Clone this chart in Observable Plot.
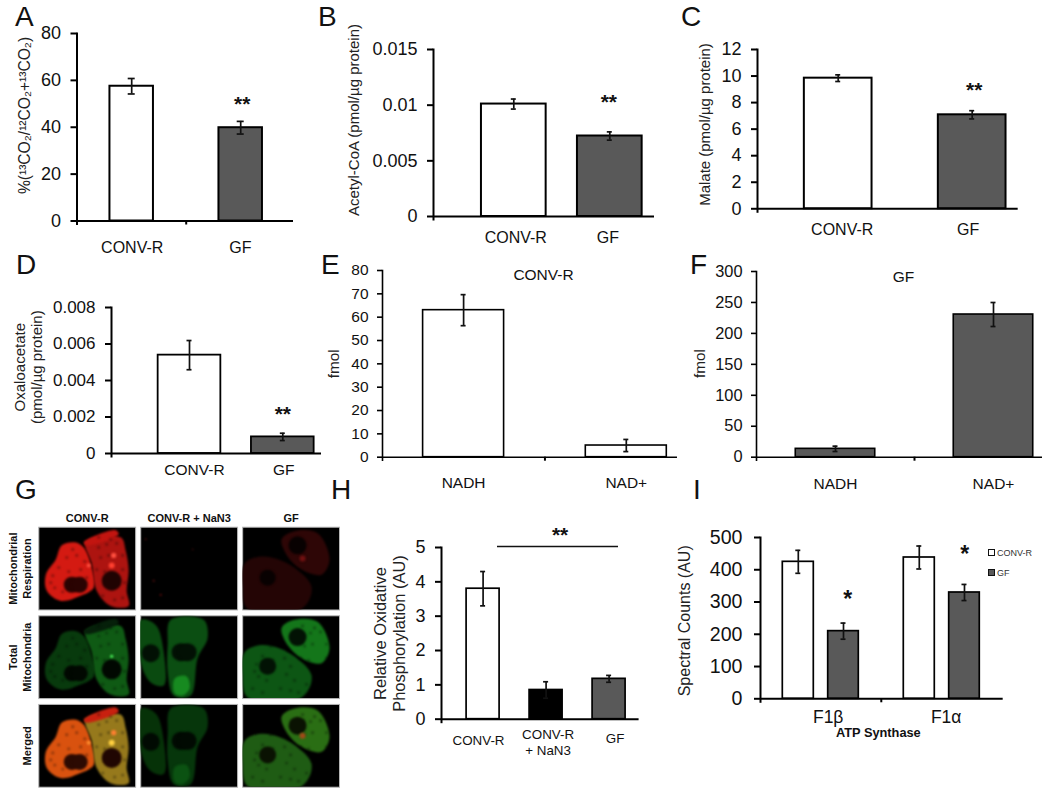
<!DOCTYPE html>
<html>
<head>
<meta charset="utf-8">
<script src="https://cdn.jsdelivr.net/npm/d3@7"></script>
<script src="https://cdn.jsdelivr.net/npm/@observablehq/plot@0.6"></script>
<style>
html,body{margin:0;padding:0;background:#fff}
#fig{position:relative;width:1050px;height:792px;overflow:hidden;font-family:"Liberation Sans",Arial,sans-serif;color:#111}
#fig svg{position:absolute;overflow:visible;max-width:none}
.letter{position:absolute;font-size:28px;line-height:1;color:#111}
.leg{position:absolute;font-size:9px;line-height:10px;color:#333}
.sw{position:absolute;width:5px;height:5px;border:1.5px solid #111}
#micro svg g[aria-label="line"] path{filter:blur(1.3px)}
#micro svg g[aria-label="dot"] circle{filter:blur(0.9px)}
</style>
</head>
<body>
<div id="fig"></div>
<script>
const WHITE = "#ffffff", GREY = "#595959", BLACK = "#000000";

// ---- Panel data ----
const catsPair = ["CONV-R", "GF"];
const catsNad = ["NADH", "NAD+"];
const catsH = ["CONV-R", "CONV-R\n+ NaN3", "GF"];
const catsI = ["F1β", "F1α"];

const valuesA = [57.5, 39.8];    const errorsA = [3.3, 2.7];
const valuesB = [0.0101, 0.00723]; const errorsB = [0.00045, 0.00037];
const valuesC = [9.84, 7.08];    const errorsC = [0.25, 0.31];
const valuesD = [0.00539, 0.00091]; const errorsD = [0.0008, 0.0002];
const valuesE = [63, 5];         const errorsE = [6.65, 2.6];
const valuesF = [13.5, 230.5];   const errorsF = [4.3, 19.4];
const valuesH = [3.8, 0.85, 1.175]; const errorsH = [0.5, 0.24, 0.1];
const valuesIconv = [424.6, 438]; const errorsIconv = [35.6, 35.6];
const valuesIgf = [209.7, 329.5]; const errorsIgf = [25, 25];

const ticksA = [0, 20, 40, 60, 80];
const ticksB = [0, 0.005, 0.01, 0.015];
const ticksC = [0, 2, 4, 6, 8, 10, 12];
const ticksD = [0, 0.002, 0.004, 0.006, 0.008];
const ticksE = [0, 10, 20, 30, 40, 50, 60, 70, 80];
const ticksF = [0, 50, 100, 150, 200, 250, 300];
const ticksH = [0, 1, 2, 3, 4, 5];
const ticksI = [0, 100, 200, 300, 400, 500];

// ---- Panel G: image tiles, hand traced outlines in tile units ----
const cols = ["CONV-R", "CONV-R + NaN3", "GF"];
const rows = ["Mitochondrial\nRespiration", "Total\nMitochondria", "Merged"];
const outlines = {
  aLeft: [[23,18],[36,15],[45,20],[52,36],[55,60],[42,68],[22,73],[8,63],[7,47],[17,32]],
  aRight: [[47,15],[82,10],[87,23],[90,43],[88,63],[90,78],[72,78],[58,63],[53,36]],
  aBand: [[45,15],[77,3],[80,7],[47,18]],
  bLeft: [[0,4],[15,9],[23,36],[23,69],[10,66],[0,46]],
  bRight: [[30,4],[63,4],[67,22],[57,42],[50,79],[33,79],[27,56],[27,29]],
  bGlow: [[34,62],[46,60],[49,72],[42,79],[34,77]],
  cUpper: [[39,12],[52,4],[75,6],[87,32],[79,47],[59,42],[45,29]],
  cLower: [[2,36],[19,29],[45,36],[69,59],[59,81],[5,81],[0,59]]
};
const blobs = [
  [cols[0], rows[0], "aLeft", "#d41a12"], [cols[0], rows[0], "aRight", "#ad1410"], [cols[0], rows[0], "aBand", "#c21510"],
  [cols[0], rows[1], "aLeft", "#083a0d"], [cols[0], rows[1], "aRight", "#0f5a14"], [cols[0], rows[1], "aBand", "#06200a"],
  [cols[0], rows[2], "aLeft", "#d9520f"], [cols[0], rows[2], "aRight", "#96791c"], [cols[0], rows[2], "aBand", "#c8200f"],
  [cols[1], rows[1], "bLeft", "#0a4a10"], [cols[1], rows[1], "bRight", "#0b4e12"], [cols[1], rows[1], "bGlow", "#178a20"],
  [cols[1], rows[2], "bLeft", "#063208"], [cols[1], rows[2], "bRight", "#06360b"], [cols[1], rows[2], "bGlow", "#0b5212"],
  [cols[2], rows[0], "cUpper", "#2e0606"], [cols[2], rows[0], "cLower", "#240505"],
  [cols[2], rows[1], "cUpper", "#14761a"], [cols[2], rows[1], "cLower", "#0d5614"],
  [cols[2], rows[2], "cUpper", "#2a6e14"], [cols[2], rows[2], "cLower", "#1f5c14"]
];
const blobPoints = blobs.flatMap(([col, row, shape, color]) =>
  outlines[shape].map(([x, y]) => ({col, row, key: col + row + shape, color, x, y})));
// nuclei are drawn as two overlapping discs where the reference shows an oval one
const spots = [
  [cols[0], rows[0], 33, 57, 8, "#2a0302"], [cols[0], rows[0], 41, 57, 8, "#2a0302"], [cols[0], rows[0], 73, 53, 10, "#200302"],
  [cols[0], rows[1], 33, 57, 8, "#010801"], [cols[0], rows[1], 41, 57, 8, "#010801"], [cols[0], rows[1], 73, 53, 10, "#010801"],
  [cols[0], rows[2], 33, 57, 8, "#2c0a02"], [cols[0], rows[2], 41, 57, 8, "#2c0a02"], [cols[0], rows[2], 73, 53, 10, "#200602"],
  [cols[1], rows[1], 10, 37, 9, "#021004"], [cols[1], rows[1], 40, 36, 9, "#021004"], [cols[1], rows[1], 47, 36, 9, "#021004"],
  [cols[1], rows[2], 10, 37, 9, "#010a02"], [cols[1], rows[2], 40, 36, 9, "#010a02"], [cols[1], rows[2], 47, 36, 9, "#010a02"],
  [cols[2], rows[0], 55, 18, 9, "#080101"], [cols[2], rows[0], 25, 50, 8, "#080101"],
  [cols[2], rows[1], 55, 21, 9, "#021204"], [cols[2], rows[1], 25, 50, 8.5, "#021204"],
  [cols[2], rows[2], 55, 21, 9, "#0a1202"], [cols[2], rows[2], 25, 50, 8.5, "#0a1202"],
  [cols[0], rows[0], 75, 28, 2.6, "#ff5040"], [cols[0], rows[0], 73, 38, 3, "#ff4030"], [cols[0], rows[0], 50, 38, 2, "#ff5040"],
  [cols[0], rows[1], 73, 40, 1.5, "#50ff60"],
  [cols[0], rows[2], 75, 28, 2.6, "#ff8030"], [cols[0], rows[2], 73, 38, 3, "#ffd040"], [cols[0], rows[2], 50, 38, 2, "#ff9030"],
  [cols[1], rows[0], 5, 12, 0.8, "#701010"], [cols[1], rows[0], 52, 22, 0.7, "#601010"], [cols[1], rows[0], 13, 53, 1, "#601010"], [cols[1], rows[0], 20, 67, 0.9, "#901010"],
  [cols[2], rows[0], 60, 31, 3, "#701010"],
  [cols[2], rows[2], 60, 31, 3, "#a04a18"]
].map(([col, row, x, y, r, color]) => ({col, row, x, y, r, color}));
// darker mottling over the cell bodies
const mottleCells = [[cols[0], rows[0]], [cols[0], rows[1]], [cols[0], rows[2]], [cols[2], rows[1]], [cols[2], rows[2]]];
const mottleSpots = [[14,48],[20,40],[28,30],[38,28],[46,34],[16,60],[24,64],[48,50],[12,55],[34,22],[60,20],[68,17],[78,16],[84,28],[62,30],[58,42],[84,42],[86,55],[64,68],[76,72],[84,70],[42,42],[30,44],[70,28],[38,72],[52,64],[10,72],[20,76],[48,74],[56,76],[66,44],[72,12],[60,10],[44,58]];
const mottle = mottleCells.flatMap(([col, row]) => mottleSpots.map(([x, y]) => ({col, row, x, y})));

// ---- Helpers ----
const fig = document.getElementById("fig");
const FONT = '"Liberation Sans", Arial, sans-serif';

function panel(o) {
  const L = Math.max(0, o.axisX - 80), R = o.xEnd + 10, T = o.yTop - 10, B = o.y0 + 48;
  const bw = o.barW, step = o.step, p = 1 - bw / step;
  const start = o.c1 - p * step - bw / 2;
  const n = o.cats.length;
  const rangeW = step * (n + p);
  const sw = o.barStroke ?? 2;
  const plotH = o.y0 - o.yTop;
  const rowsAll = o.series.flatMap(s => s.values.map((v, i) => ({
    cat: o.cats[i], v, e: s.errors[i], fill: s.fills ? s.fills[i] : s.fill,
    l: s.insetLeft ?? 0, r: s.insetRight ?? 0, dx: s.dx ?? 0,
    cap: o.cap ?? 5
  })));
  const marks = [];
  for (const r of rowsAll) {
    marks.push(Plot.barY([r], {x: "cat", y: "v", fill: "fill", stroke: BLACK, strokeWidth: sw, insetLeft: r.l, insetRight: r.r}));
    marks.push(Plot.ruleX([r], {x: "cat", y1: d => d.v - d.e, y2: d => d.v + d.e, dx: r.dx, stroke: "#111", strokeWidth: o.errStroke ?? 1.7}));
    for (const val of [r.v - r.e, r.v + r.e]) {
      marks.push(Plot.tickY([{cat: r.cat, val}], {x: "cat", y: "val", dx: r.dx, inset: (bw - r.cap) / 2, stroke: "#111", strokeWidth: 1.7}));
    }
  }
  marks.push(Plot.ruleY([0], {stroke: BLACK, strokeWidth: o.axisStroke ?? 2}));
  marks.push(Plot.frame({anchor: "left", stroke: BLACK, strokeWidth: o.axisStroke ?? 2, insetBottom: -3}));
  marks.push(Plot.axisY(o.ticks, {
    label: null, tickSize: o.tickSize ?? 6, tickPadding: o.tickPad ?? 10, fontSize: o.tickFont ?? 18,
    strokeWidth: o.axisStroke ?? 2, tickFormat: d => String(d), stroke: BLACK
  }));
  o.cats.forEach((c, i) => {
    marks.push(Plot.axisX([c], {
      label: null, tickSize: 0, fontSize: o.catFont ?? 16, lineHeight: 1.2,
      tickPadding: Array.isArray(o.catPad) ? o.catPad[i] : o.catPad,
      dx: o.catDx ? o.catDx[i] : 0
    }));
  });
  if (o.midTick) {
    marks.push(Plot.ruleX([o.cats[1]], {dx: -step / 2, y1: 0, y2: -(4 / plotH) * o.max, stroke: BLACK, strokeWidth: 2}));
  }
  if (o.yLabel) {
    marks.push(Plot.text([o.yLabel.text], {
      frameAnchor: "left", rotate: -90, textAnchor: "middle", lineAnchor: "middle",
      dx: o.yLabel.x - o.axisX, dy: o.yLabel.y - (o.y0 + o.yTop) / 2,
      fontSize: o.yLabel.font ?? 15, lineHeight: o.yLabel.lh ?? 1.15, fill: "#222"
    }));
  }
  for (const st of o.stars ?? []) {
    marks.push(Plot.text([st], {
      x: "cat", y: "y", text: "t", dx: st.dx ?? 0, fontSize: st.font ?? 21, fontWeight: "bold", lineAnchor: "middle", textAnchor: "middle", fill: "#111"
    }));
  }
  if (o.extra) marks.push(...o.extra);
  const svg = Plot.plot({
    width: R - L, height: B - T,
    marginLeft: o.axisX - L, marginRight: R - o.xEnd, marginTop: o.yTop - T, marginBottom: B - o.y0,
    style: {background: "transparent", fontFamily: FONT, overflow: "visible", color: "#111"},
    x: {type: "band", domain: o.cats, range: [start - L, start - L + rangeW], padding: p, round: false, axis: null},
    y: {domain: [0, o.max], axis: null},
    marks
  });
  svg.style.left = L + "px";
  svg.style.top = T + "px";
  fig.appendChild(svg);
}

const titleMark = (t, dx, dy, font, weight) => Plot.text([t], {
  frameAnchor: "top", textAnchor: "middle", lineAnchor: "middle", dx, dy, fontSize: font, fontWeight: weight ?? "normal", fill: "#111"
});

// A
panel({axisX: 76.5, y0: 220.5, yTop: 33, xEnd: 293, max: 80, ticks: ticksA, cats: catsPair,
  c1: 131.2, step: 109, barW: 43.5, cap: 7, catPad: 18.8, catFont: 16, catDx: [0.5, -0.3], midTick: true,
  series: [{values: valuesA, errors: errorsA, fills: [WHITE, GREY]}],
  yLabel: {text: "%(¹³CO₂/¹²CO₂+¹³CO₂)", x: 24, y: 115, font: 15.6},
  stars: [{cat: "GF", y: 49.6, t: "**", dx: 1.5}]});
// B
panel({axisX: 433, y0: 215.5, yTop: 48.5, xEnd: 654, max: 0.015, ticks: ticksB, cats: catsPair,
  c1: 513.3, step: 96, barW: 64.7, catPad: 12.8, catDx: [2, -2],
  series: [{values: valuesB, errors: errorsB, fills: [WHITE, GREY]}],
  yLabel: {text: "Acetyl-CoA (pmol/µg protein)", x: 353, y: 119, font: 15},
  stars: [{cat: "GF", y: 0.01024, t: "**", dx: -1}]});
// C
panel({axisX: 757.3, y0: 208.3, yTop: 49, xEnd: 1018, max: 12, ticks: ticksC, cats: catsPair,
  c1: 838, step: 134, barW: 67.7, catPad: 12.7, catDx: [4, -4],
  series: [{values: valuesC, errors: errorsC, fills: [WHITE, GREY]}],
  yLabel: {text: "Malate (pmol/µg protein)", x: 704, y: 124, font: 15},
  stars: [{cat: "GF", y: 8.95, t: "**", dx: 2}]});
// D
panel({axisX: 110.7, y0: 453.3, yTop: 307.3, xEnd: 320.7, max: 0.008, ticks: ticksD, cats: catsPair,
  c1: 188.7, step: 93.3, barW: 62.7, catPad: 7.9, catFont: 15.5, catDx: [5, 1], tickFont: 17, barStroke: 1.8,
  series: [{values: valuesD, errors: errorsD, fills: [WHITE, GREY]}],
  yLabel: {text: "Oxaloacetate\n(pmol/µg protein)", x: 27.5, y: 367, font: 15},
  stars: [{cat: "GF", y: 0.00215, t: "**"}]});
// E
panel({axisX: 381.7, y0: 456.7, yTop: 270, xEnd: 676.7, max: 80, ticks: ticksE, cats: catsNad,
  c1: 462.8, step: 162.7, barW: 81, catPad: 17.8, catFont: 15.5, tickFont: 15.5, tickSize: 5, tickPad: 9,
  barStroke: 1.6, axisStroke: 1.6, midTick: true,
  series: [{values: valuesE, errors: errorsE, fills: [WHITE, WHITE]}],
  yLabel: {text: "fmol", x: 332.7, y: 363.3, font: 15.3},
  extra: [titleMark("CONV-R", 13.5, 5, 15.5)]});
// F
panel({axisX: 756, y0: 456.7, yTop: 271, xEnd: 1042, max: 300, ticks: ticksF, cats: catsNad,
  c1: 835, step: 158, barW: 79.5, catPad: 18.8, catFont: 15.5, tickFont: 16.4, tickSize: 5, tickPad: 9,
  barStroke: 1.6, axisStroke: 1.6, midTick: true,
  series: [{values: valuesF, errors: errorsF, fills: [GREY, GREY]}],
  yLabel: {text: "fmol", x: 699, y: 363, font: 15.3},
  extra: [titleMark("GF", 4, 5.7, 15.5)]});
// H
panel({axisX: 440.7, y0: 718.7, yTop: 547, xEnd: 638.3, max: 5, ticks: ticksH, cats: catsH,
  c1: 482.3, step: 63, barW: 33, catPad: [14.2, 8.2, 12.5], catFont: 13.4, catDx: [-4.6, 2, 6], barStroke: 1.7,
  series: [{values: valuesH, errors: errorsH, fills: [WHITE, BLACK, GREY]}],
  yLabel: {text: "Relative Oxidative\nPhosphorylation (AU)", x: 388.7, y: 633, font: 16.5},
  stars: [{cat: catsH[1], y: 5.35, t: "**", dx: 14}],
  extra: [Plot.ruleY([5.03], {insetLeft: 56, insetRight: 20.6, stroke: "#111", strokeWidth: 1.5})]});
// I
panel({axisX: 760, y0: 698, yTop: 536.7, xEnd: 1002.7, max: 500, ticks: ticksI, cats: catsI,
  c1: 820.3, step: 121, barW: 76, catPad: 9, catFont: 17.5, catDx: [7.4, 4.4], tickFont: 19.6, tickPad: 12,
  barStroke: 1.7, midTick: true,
  series: [
    {values: valuesIconv, errors: errorsIconv, fill: WHITE, insetRight: 45, dx: -22.5},
    {values: valuesIgf, errors: errorsIgf, fill: GREY, insetLeft: 45.4, dx: 22.7}
  ],
  yLabel: {text: "Spectral Counts (AU)", x: 683.3, y: 620, font: 16},
  stars: [{cat: "F1β", y: 308.7, t: "*", dx: 27, font: 23}, {cat: "F1α", y: 446.4, t: "*", dx: 23, font: 23}],
  extra: [Plot.text(["ATP Synthase"], {frameAnchor: "bottom", textAnchor: "middle", lineAnchor: "middle", dx: -3.5, dy: 33.7, fontSize: 12.8, fontWeight: "bold", fill: "#111"})]});

// G
const micro = document.createElement("div");
micro.id = "micro";
fig.appendChild(micro);
const gSvg = Plot.plot({
  width: 345, height: 292,
  marginLeft: 38.3, marginRight: 6, marginTop: 26.7, marginBottom: 5.3,
  style: {background: "transparent", fontFamily: FONT, overflow: "visible", color: "#111"},
  fx: {domain: cols, paddingInner: 0.05, paddingOuter: 0, axis: null, round: false},
  fy: {domain: rows, paddingInner: 0.066, paddingOuter: 0, axis: null, round: false},
  x: {domain: [0, 97], axis: null},
  y: {domain: [0, 82], reverse: true, axis: null},
  r: {type: "identity"},
  marks: [
    Plot.frame({fill: BLACK, stroke: "#b5b5b5", strokeWidth: 1}),
    Plot.line(blobPoints, {x: "x", y: "y", z: "key", fx: "col", fy: "row", fill: "color", stroke: "none", curve: "catmull-rom-closed", clip: "frame"}),
    Plot.dot(mottle, {x: "x", y: "y", fx: "col", fy: "row", r: 1.6, fill: BLACK, fillOpacity: 0.3, stroke: "none", clip: "frame"}),
    Plot.dot(spots, {x: "x", y: "y", r: "r", fx: "col", fy: "row", fill: "color", stroke: "none", clip: "frame"}),
    Plot.axisFx({anchor: "top", label: null, tickSize: 0, tickPadding: 5, fontSize: 11, fontWeight: "bold"}),
    Plot.text(rows, {fx: () => cols[0], fy: d => d, text: d => d, frameAnchor: "left", rotate: -90, textAnchor: "middle", lineAnchor: "bottom", dx: -7.6, fontSize: 11, fontWeight: "bold", lineHeight: 1.3, fill: "#111"})
  ]
});
gSvg.style.left = "0px";
gSvg.style.top = "500px";
micro.appendChild(gSvg);

// Panel letters
const letters = [["A", 15, 27], ["B", 318, 27], ["C", 681, 27], ["D", 16, 275], ["E", 321, 275], ["F", 690, 275], ["G", 15, 500], ["H", 331, 500], ["I", 693, 500]];
for (const [t, x, base] of letters) {
  const d = document.createElement("div");
  d.className = "letter";
  d.textContent = t;
  d.style.left = x + "px";
  d.style.top = (base - 23.7) + "px";
  fig.appendChild(d);
}

// Legend of panel I
const legendItems = [["CONV-R", WHITE, 553.3], ["GF", GREY, 573.3]];
for (const [t, c, y] of legendItems) {
  const s = document.createElement("div");
  s.className = "sw";
  s.style.left = "988px"; s.style.top = (y - 4) + "px"; s.style.background = c;
  fig.appendChild(s);
  const l = document.createElement("div");
  l.className = "leg";
  l.textContent = t;
  l.style.left = "997px"; l.style.top = (y - 5) + "px";
  fig.appendChild(l);
}
</script>
</body>
</html>
